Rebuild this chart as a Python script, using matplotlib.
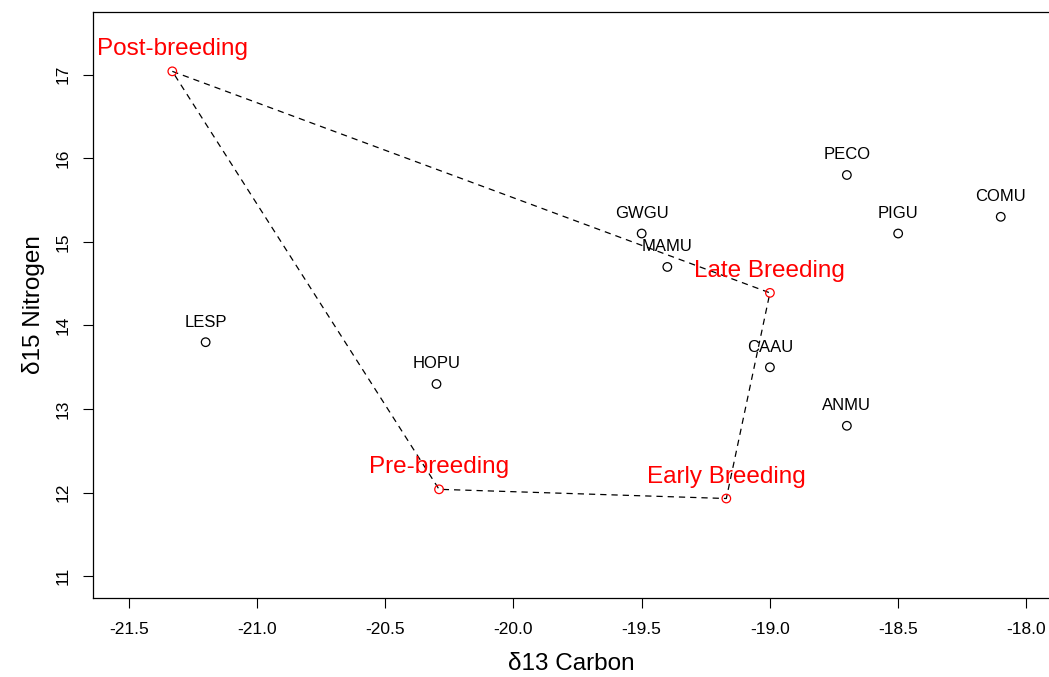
import matplotlib
matplotlib.use("Agg")
import matplotlib.pyplot as plt

plt.rcParams['font.family'] = ['Liberation Sans', 'DejaVu Sans']

# species isotope values
species = ['LESP', 'HOPU', 'GWGU', 'MAMU', 'PECO', 'PIGU', 'COMU', 'CAAU', 'ANMU']
sp_carbon = [-21.2, -20.3, -19.5, -19.4, -18.7, -18.5, -18.1, -19.0, -18.7]
sp_nitrogen = [13.8, 13.3, 15.1, 14.7, 15.8, 15.1, 15.3, 13.5, 12.8]

# seasonal means (polygon order)
seasons = ['Post-breeding', 'Late Breeding', 'Early Breeding', 'Pre-breeding']
se_carbon = [-21.33, -19.0, -19.17, -20.29]
se_nitrogen = [17.04, 14.39, 11.93, 12.04]

fig = plt.figure(figsize=(10.49, 6.77), dpi=100)
ax = fig.add_axes([0.0887, 0.1167, 0.9125, 0.8656])

# dashed polygon joining the seasons
ax.plot(se_carbon + se_carbon[:1], se_nitrogen + se_nitrogen[:1],
        color='black', linestyle=(0, (5, 4)), linewidth=0.9)

ax.scatter(sp_carbon, sp_nitrogen, s=38, facecolors='none', edgecolors='black',
           linewidths=0.9, zorder=3)
ax.scatter(se_carbon, se_nitrogen, s=38, facecolors='none', edgecolors='red',
           linewidths=0.9, zorder=3)

for name, x, y in zip(species, sp_carbon, sp_nitrogen):
    ax.annotate(name, (x, y), xytext=(0, 20), textcoords='offset pixels',
                ha='center', va='center', fontsize=12, color='black')

for name, x, y in zip(seasons, se_carbon, se_nitrogen):
    ax.annotate(name, (x, y), xytext=(0, 22), textcoords='offset pixels',
                ha='center', va='center', fontsize=17.5, color='red')

ax.set_xlim(-21.639, -17.907)
ax.set_ylim(10.74, 17.75)
ax.set_xticks([-21.5, -21.0, -20.5, -20.0, -19.5, -19.0, -18.5, -18.0])
ax.set_xticklabels(['-21.5', '-21.0', '-20.5', '-20.0', '-19.5', '-19.0', '-18.5', '-18.0'])
ax.set_yticks([11, 12, 13, 14, 15, 16, 17])
ax.tick_params(axis='x', direction='out', length=7, width=0.8, labelsize=12.5, pad=10)
ax.tick_params(axis='y', direction='out', length=7, width=0.8, labelsize=12.5, pad=9)
for lab in ax.get_yticklabels():
    lab.set_rotation(90)
    lab.set_va('center')

for sp in ax.spines.values():
    sp.set_linewidth(0.9)

ax.set_xlabel('δ13 Carbon', fontsize=17.5, labelpad=12)
ax.set_ylabel('δ15 Nitrogen', fontsize=17.5, labelpad=8)

fig.savefig('out.png', dpi=100)
